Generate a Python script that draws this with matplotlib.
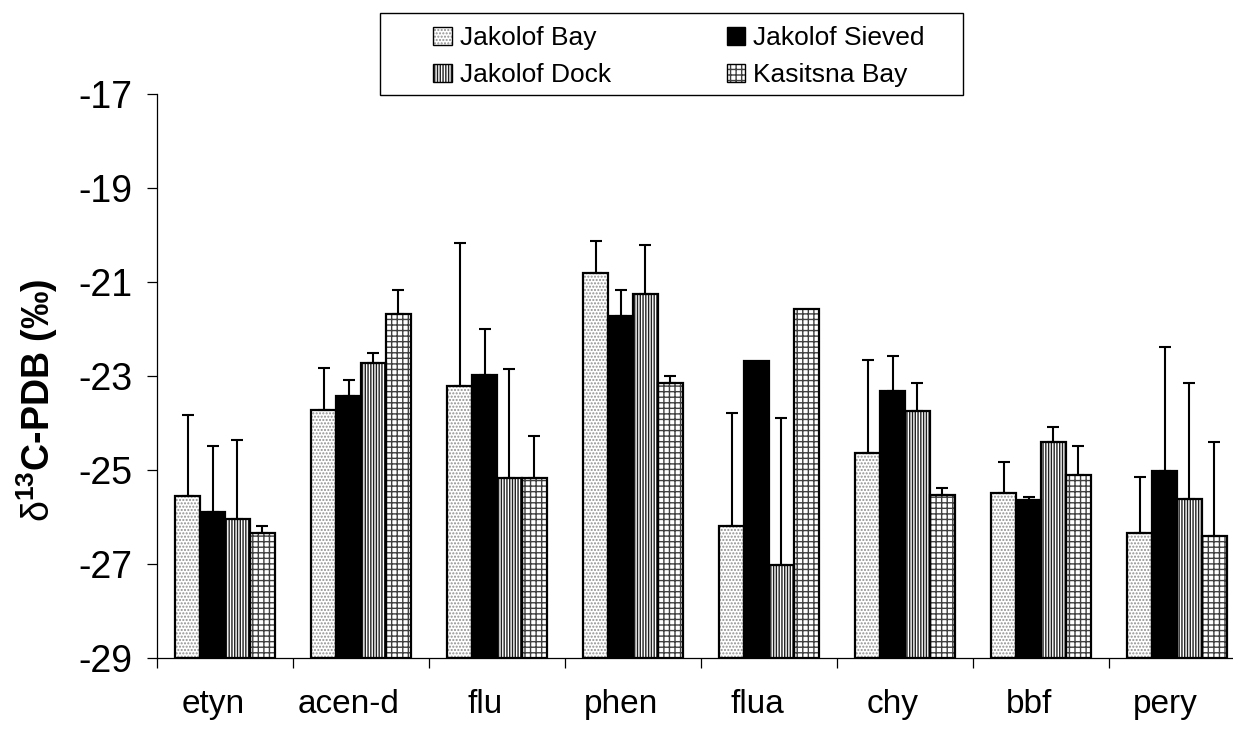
import numpy as np
import matplotlib
matplotlib.use("Agg")
import matplotlib.pyplot as plt
import matplotlib.transforms as mtransforms
from matplotlib.patches import Patch, Rectangle
from matplotlib.legend_handler import HandlerTuple

plt.rcParams['font.family'] = ['Liberation Sans', 'DejaVu Sans']
plt.rcParams['mathtext.fontset'] = 'custom'
plt.rcParams['mathtext.rm'] = 'Liberation Sans'
plt.rcParams['mathtext.bf'] = 'Liberation Sans:bold'
plt.rcParams['mathtext.it'] = 'Liberation Sans:italic'
plt.rcParams['hatch.linewidth'] = 1.0

categories = ["etyn", "acen-d", "flu", "phen", "flua", "chy", "bbf", "pery"]
series = ["Jakolof Bay", "Jakolof Sieved", "Jakolof Dock", "Kasitsna Bay"]

bay = [-25.56, -23.73, -23.22, -20.81, -26.20, -24.64, -25.48, -26.34]
sieved = [-25.89, -23.42, -22.98, -21.72, -22.68, -23.32, -25.64, -25.03]
dock = [-26.04, -22.72, -25.18, -21.25, -27.03, -23.75, -24.40, -25.62]
kasitsna = [-26.34, -21.68, -25.18, -23.14, -21.58, -25.53, -25.10, -26.40]

bay_err = [1.73, 0.91, 3.06, 0.69, 2.42, 1.98, 0.64, 1.19]
sieved_err = [1.40, 0.33, 0.99, 0.54, 0.0, 0.74, 0.06, 2.65]
dock_err = [1.68, 0.21, 2.32, 1.04, 3.13, 0.60, 0.31, 2.48]
kasitsna_err = [0.14, 0.50, 0.90, 0.15, 0.0, 0.14, 0.61, 2.00]

yticks = [-29, -27, -25, -23, -21, -19, -17]
baseline = -29

values = [bay, sieved, dock, kasitsna]
errors = [bay_err, sieved_err, dock_err, kasitsna_err]
styles = [
    dict(face='white', hatch='.....', hatchcolor='#8f8f8f'),
    dict(face='black', hatch=None, hatchcolor='black'),
    dict(face='white', hatch='||||||', hatchcolor='#202020'),
    dict(face='white', hatch='+++', hatchcolor='#404040'),
]

fig = plt.figure(figsize=(12.33, 7.33), dpi=100)
W, H = 1233, 733
left_px, right_px, top_px, bot_px = 157, 1245, 94, 658
ax = fig.add_axes([left_px / W, 1 - bot_px / H, (right_px - left_px) / W, (bot_px - top_px) / H])

n = len(categories)
x = np.arange(n) + 0.5
w = 0.182
for j, (vals, errs, st) in enumerate(zip(values, errors, styles)):
    pos = x + (j - 1.5) * w
    vals = np.array(vals)
    heights = vals - baseline
    ax.bar(pos, heights, w, bottom=baseline, color=st['face'],
           edgecolor=st['hatchcolor'], hatch=st['hatch'], linewidth=0, zorder=2)
    ax.bar(pos, heights, w, bottom=baseline, fill=False,
           edgecolor='black', linewidth=1.6, zorder=3)
    errs = np.array(errs)
    m = errs > 0
    ax.errorbar(pos[m], vals[m], yerr=[np.zeros(m.sum()), errs[m]], fmt='none',
                ecolor='black', elinewidth=1.5, capsize=4, capthick=1.5, zorder=4)

ax.set_xlim(0, n)
ax.set_ylim(-29, -17)
ax.set_yticks(yticks)
ax.set_yticklabels([str(t) for t in yticks])
ax.tick_params(axis='y', direction='out', length=7, width=0.9, pad=11, labelsize=27)
ax.set_xticks(x)
ax.set_xticklabels(categories)
ax.tick_params(axis='x', which='major', length=0, pad=22, labelsize=24)
ax.set_xticks(np.arange(n + 1), minor=True)
ax.tick_params(axis='x', which='minor', direction='out', length=7, width=0.9)
offset = mtransforms.ScaledTranslation(-12 / 100, 0, fig.dpi_scale_trans)
for lab in ax.get_xticklabels():
    lab.set_transform(lab.get_transform() + offset)
for s in ['top', 'right']:
    ax.spines[s].set_visible(False)
for s in ['left', 'bottom']:
    ax.spines[s].set_linewidth(0.9)

fig.text(37 / W, 1 - 400 / H, r'$\mathrm{\delta}^{\mathbf{13}}$C-PDB (‰)', rotation=90,
         fontsize=27, fontweight='bold', ha='center', va='center')

# legend
fig.patches.append(Rectangle((380 / W, 1 - 95 / H), 583 / W, 82 / H,
                             transform=fig.transFigure, fill=False,
                             edgecolor='black', linewidth=1.0, figure=fig))
handles = []
for st in styles:
    hp = Patch(facecolor=st['face'], edgecolor=st['hatchcolor'], hatch=st['hatch'], linewidth=0)
    ho = Patch(fill=False, edgecolor='black', linewidth=1.0)
    handles.append((hp, ho))
order = [0, 2, 1, 3]
leg = fig.legend([handles[i] for i in order], [series[i] for i in order],
                 handler_map={tuple: HandlerTuple(ndivide=1, pad=0)},
                 loc='upper left', bbox_to_anchor=(412 / W, 1 - 5 / H),
                 ncol=2, frameon=False, fontsize=19, handlelength=0.7,
                 handleheight=0.7, handletextpad=0.3, columnspacing=4.4,
                 labelspacing=0.5, borderpad=0.3)

fig.savefig('out.png', dpi=100)
